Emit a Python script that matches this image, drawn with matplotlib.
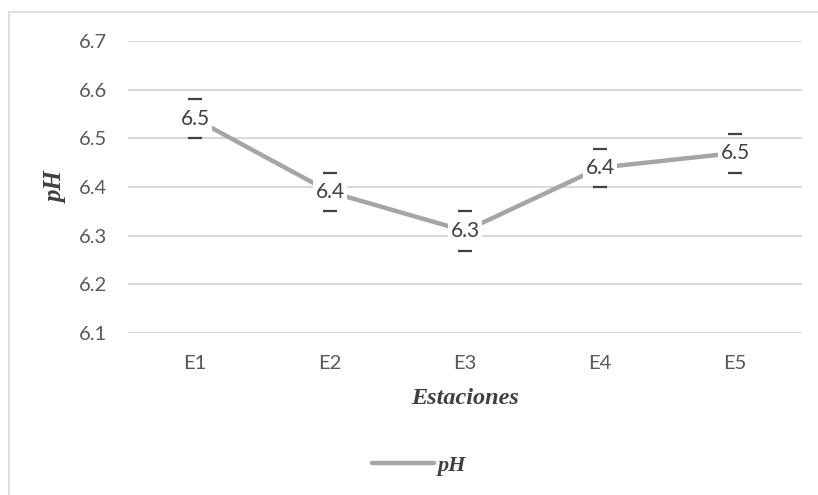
import matplotlib.pyplot as plt
from matplotlib.patches import Rectangle

# Datos
estaciones = ['E1', 'E2', 'E3', 'E4', 'E5']
ph_valores = [6.54, 6.39, 6.31, 6.44, 6.47]
ph_error = [0.040, 0.039, 0.041, 0.039, 0.040]
y_ticks = [6.1, 6.2, 6.3, 6.4, 6.5, 6.6, 6.7]

LINE_COLOR = '#A5A5A5'
TEXT_COLOR = '#595959'
GRID_COLOR = '#D9D9D9'
SERIF = 'Liberation Serif'
SANS = 'Lato'


def main():
    fig = plt.figure(figsize=(8.18, 4.95), dpi=100)
    ax = fig.add_axes([0.156, 0.327, 0.825, 0.590])

    # chart border (only left and top visible in the crop)
    fig.patches.append(Rectangle((9 / 818, -0.1), 1.2, 1 - 12 / 495 + 0.1,
                                 transform=fig.transFigure, fill=False,
                                 edgecolor='#D9D9D9', linewidth=1.2))

    x = list(range(len(estaciones)))
    ax.plot(x, ph_valores, color=LINE_COLOR, linewidth=3.2,
            solid_capstyle='round', zorder=3, label='pH')
    ax.errorbar(x, ph_valores, yerr=ph_error, fmt='none', ecolor='#404040',
                elinewidth=0, capsize=4.7, capthick=1.6, zorder=4)

    for xi, v in zip(x, ph_valores):
        ax.text(xi, v, f'{v:.1f}', ha='center', va='center', fontsize=15,
                color='#404040', family=SANS, zorder=5,
                bbox=dict(boxstyle='square,pad=0.12', fc='white', ec='none'))

    ax.set_xlim(-0.5, len(estaciones) - 0.5)
    ax.set_ylim(6.1, 6.7)
    ax.set_yticks(y_ticks)
    ax.set_yticklabels([f'{t:.1f}' for t in y_ticks])
    ax.set_xticks(x)
    ax.set_xticklabels(estaciones)
    for lbl in ax.get_xticklabels() + ax.get_yticklabels():
        lbl.set_family(SANS)
        lbl.set_fontsize(14.5)
        lbl.set_color(TEXT_COLOR)
    ax.tick_params(length=0)
    ax.tick_params(axis='y', pad=15)
    ax.tick_params(axis='x', pad=16)

    ax.grid(axis='y', color=GRID_COLOR, linewidth=1.5)
    ax.set_axisbelow(True)
    for s in ax.spines.values():
        s.set_visible(False)

    ax.set_xlabel('Estaciones', family=SERIF, style='italic', weight='bold',
                  fontsize=17.5, color='#404040', labelpad=11)
    ax.set_ylabel('pH', family=SERIF, style='italic', weight='bold',
                  fontsize=18, color='#404040')
    ax.yaxis.set_label_coords(-0.088, 0.5)

    leg = fig.legend(loc='center', bbox_to_anchor=(0.512, 0.06), frameon=False,
                     handlelength=2.8, handletextpad=0.15,
                     prop={'family': SERIF, 'style': 'italic', 'weight': 'bold',
                           'size': 16})
    for t in leg.get_texts():
        t.set_color('#404040')

    fig.savefig('out.png', dpi=100)


if __name__ == '__main__':
    main()
